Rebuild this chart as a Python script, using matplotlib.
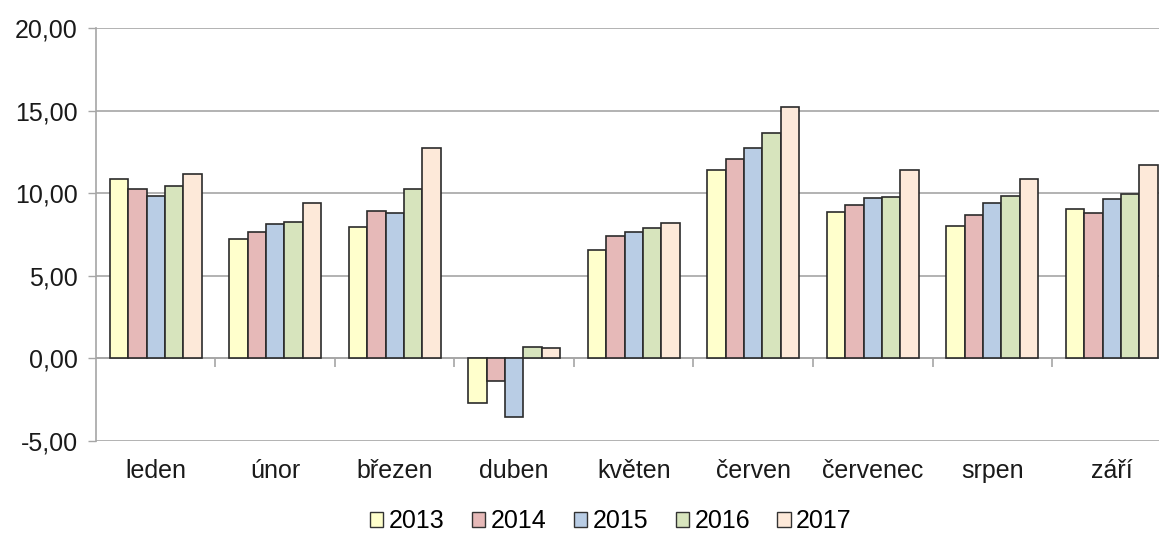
import numpy as np
import matplotlib
matplotlib.use("Agg")
import matplotlib.pyplot as plt
from matplotlib.patches import Patch

plt.rcParams['font.family'] = ['Liberation Sans', 'DejaVu Sans']

months = ['leden', 'únor', 'březen', 'duben', 'květen', 'červen', 'červenec', 'srpen', 'září']
years = ['2013', '2014', '2015', '2016', '2017']

v2013 = [10.87, 7.21, 7.96, -2.71, 6.55, 11.41, 8.87, 8.04, 9.03]
v2014 = [10.28, 7.68, 8.93, -1.37, 7.38, 12.08, 9.31, 8.65, 8.81]
v2015 = [9.84, 8.12, 8.79, -3.55, 7.66, 12.74, 9.70, 9.39, 9.64]
v2016 = [10.44, 8.28, 10.28, 0.72, 7.90, 13.65, 9.78, 9.84, 9.98]
v2017 = [11.17, 9.41, 12.74, 0.64, 8.19, 15.22, 11.41, 10.83, 11.70]

colors = ['#FFFFCC', '#E6B9B8', '#B9CDE5', '#D7E4BD', '#FDE9D9']
series = [v2013, v2014, v2015, v2016, v2017]

fig = plt.figure(figsize=(11.59, 5.33), dpi=100)
ax = fig.add_axes([0.0828, 0.1726, 0.928, 0.7749])

x = np.arange(len(months))
w = 0.154
for i, vals in enumerate(series):
    ax.bar(x + (i - 2) * w, vals, w, color=colors[i], edgecolor='#2b2b2b',
           linewidth=1.2, zorder=3)

ax.set_xlim(-0.5, len(months) - 0.5)
ax.set_ylim(-5, 20)
ax.set_yticks(np.arange(-5, 21, 5))
ax.set_yticklabels([f'{t:.2f}'.replace('.', ',') for t in np.arange(-5, 21, 5)])
ax.yaxis.grid(True, color='#A6A6A6', linewidth=1.2, zorder=0)
ax.set_axisbelow(True)

ax.set_xticks(x)
ax.set_xticklabels(months)
ax.tick_params(axis='x', length=0, pad=13, labelsize=18, colors='#1a1a1a')
ax.tick_params(axis='y', length=6, width=1, color='#A6A6A6', labelsize=18,
               pad=7)
for t in ax.get_yticklabels():
    t.set_color('#1a1a1a')

for s in ['top', 'right', 'bottom']:
    ax.spines[s].set_visible(False)
ax.spines['left'].set_color('#A6A6A6')
ax.spines['left'].set_linewidth(1.2)

# category axis at zero with boundary ticks
ax.axhline(0, color='#A6A6A6', linewidth=1.2, zorder=2)
ax.vlines(x[:-1] + 0.5, -0.5, 0, color='#A6A6A6', linewidth=1.2, zorder=2)

handles = [Patch(facecolor=c, edgecolor='#333333', linewidth=1.0) for c in colors]
fig.legend(handles, years, loc='center', bbox_to_anchor=(0.527, 0.022),
           ncol=5, frameon=False, fontsize=18, handlelength=0.55,
           handleheight=0.55, handletextpad=0.2, columnspacing=1.1)

fig.savefig('out.png', dpi=100)
